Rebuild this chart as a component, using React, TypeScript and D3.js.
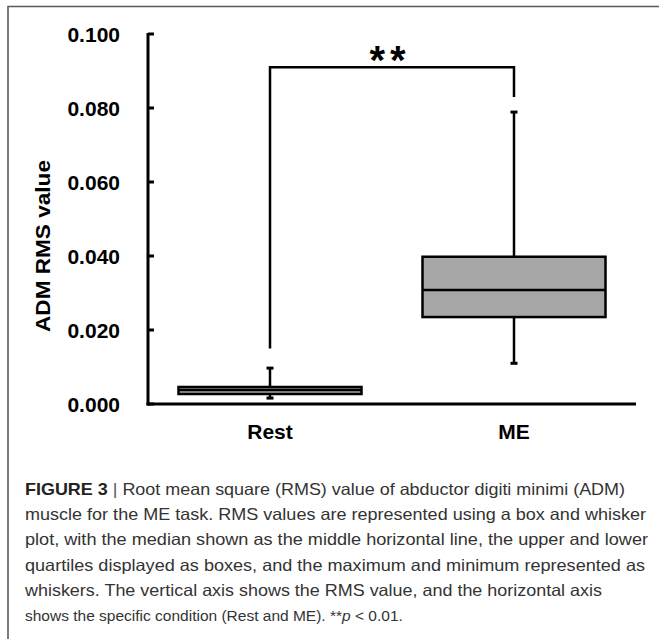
import * as d3 from "d3";

const W = 659;
const H = 639;
const FONT = "'Liberation Sans', Arial, Helvetica, sans-serif";

// box plot values
const categories = ["Rest", "ME"];
const whiskerMin = [0.0016, 0.011];
const q1 = [0.0027, 0.0235];
const median = [0.0038, 0.0308];
const q3 = [0.0046, 0.0398];
const whiskerMax = [0.0097, 0.0789];

const yTicks = [0, 0.02, 0.04, 0.06, 0.08, 0.1];

// significance bracket (Rest vs ME)
const bracketTop = 0.091;
const bracketLeftEnd = 0.015;
const bracketRightEnd = 0.083;
const sigLabel = "**";

const captionLines = [
  " Root mean square (RMS) value of abductor digiti minimi (ADM)",
  "muscle for the ME task. RMS values are represented using a box and whisker",
  "plot, with the median shown as the middle horizontal line, the upper and lower",
  "quartiles displayed as boxes, and the maximum and minimum represented as",
  "whiskers. The vertical axis shows the RMS value, and the horizontal axis",
];
const captionWidths = [600, 621, 623, 620, 577];

const x = d3.scalePoint<string>().domain(categories).range([148, 636]).padding(0.5);
const y = d3.scaleLinear().domain([0, 0.1]).range([404, 34]);

export default function App() {
  const boxW = x.step() * 0.75;
  const capW = 7;

  return (
    <svg
      width={W}
      height={H}
      style={{ position: "absolute", left: 0, top: 0, background: "#fff" }}
    >
      {/* frame */}
      <path d={`M8,639 V6.5 H659`} fill="none" stroke="#5a5a5a" strokeWidth={1.6} />

      {/* y axis */}
      <line x1={148} x2={148} y1={y(0.1) - 1} y2={y(0) + 1.5} stroke="#000" strokeWidth={3} />
      {yTicks.map((t) => (
        <g key={t}>
          <line x1={148} x2={154} y1={y(t)} y2={y(t)} stroke="#000" strokeWidth={3} />
          <text
            x={120}
            y={y(t)}
            dy="0.36em"
            textAnchor="end"
            fontFamily={FONT}
            fontWeight="bold"
            fontSize={21}
            fill="#000"
          >
            {d3.format(".3f")(t)}
          </text>
        </g>
      ))}
      <text
        transform={`translate(50,${246}) rotate(-90)`}
        textAnchor="middle"
        fontFamily={FONT}
        fontWeight="bold"
        fontSize={19.5}
        textLength={172}
        lengthAdjust="spacingAndGlyphs"
        fill="#000"
      >
        ADM RMS value
      </text>

      {/* x axis */}
      <line x1={146.5} x2={636} y1={y(0)} y2={y(0)} stroke="#000" strokeWidth={3} />
      {categories.map((c) => (
        <text
          key={c}
          x={x(c)}
          y={439}
          textAnchor="middle"
          fontFamily={FONT}
          fontWeight="bold"
          fontSize={21}
          fill="#000"
        >
          {c}
        </text>
      ))}

      {/* boxes */}
      {categories.map((c, i) => {
        const cx = x(c)!;
        return (
          <g key={c} stroke="#000" strokeWidth={2.5}>
            <line x1={cx} x2={cx} y1={y(whiskerMax[i])} y2={y(q3[i])} />
            <line x1={cx} x2={cx} y1={y(q1[i])} y2={y(whiskerMin[i])} />
            <line x1={cx - capW / 2} x2={cx + capW / 2} y1={y(whiskerMax[i])} y2={y(whiskerMax[i])} strokeWidth={3} />
            <line x1={cx - capW / 2} x2={cx + capW / 2} y1={y(whiskerMin[i])} y2={y(whiskerMin[i])} strokeWidth={3} />
            <rect
              x={cx - boxW / 2}
              y={y(q3[i])}
              width={boxW}
              height={y(q1[i]) - y(q3[i])}
              fill="#a6a6a6"
            />
            <line x1={cx - boxW / 2} x2={cx + boxW / 2} y1={y(median[i])} y2={y(median[i])} />
          </g>
        );
      })}

      {/* significance bracket */}
      <path
        d={`M${x("Rest")},${y(bracketLeftEnd)} V${y(bracketTop)} H${x("ME")} V${y(bracketRightEnd)}`}
        fill="none"
        stroke="#000"
        strokeWidth={2.5}
      />
      <text
        x={(x("Rest")! + x("ME")!) / 2 - 2}
        y={74}
        textAnchor="middle"
        fontFamily={FONT}
        fontWeight="bold"
        fontSize={40}
        letterSpacing={5}
        fill="#000"
      >
        {sigLabel}
      </text>

      {/* caption */}
      <g fontFamily={FONT} fontSize={16.5} fill="#333">
        {captionLines.map((line, i) => (
          <text
            key={i}
            x={25}
            y={495 + i * 25.2}
            textLength={captionWidths[i]}
            lengthAdjust="spacingAndGlyphs"
          >
            {i === 0 && (
              <tspan fontWeight="bold" fill="#222">
                FIGURE 3
              </tspan>
            )}
            {i === 0 && <tspan fill="#555"> |</tspan>}
            {line}
          </text>
        ))}
        <text x={25} y={495 + 5 * 25.2} fontSize={15.5}>
          shows the specific condition (Rest and ME). **<tspan fontStyle="italic">p</tspan> {"<"} 0.01.
        </text>
      </g>
    </svg>
  );
}
